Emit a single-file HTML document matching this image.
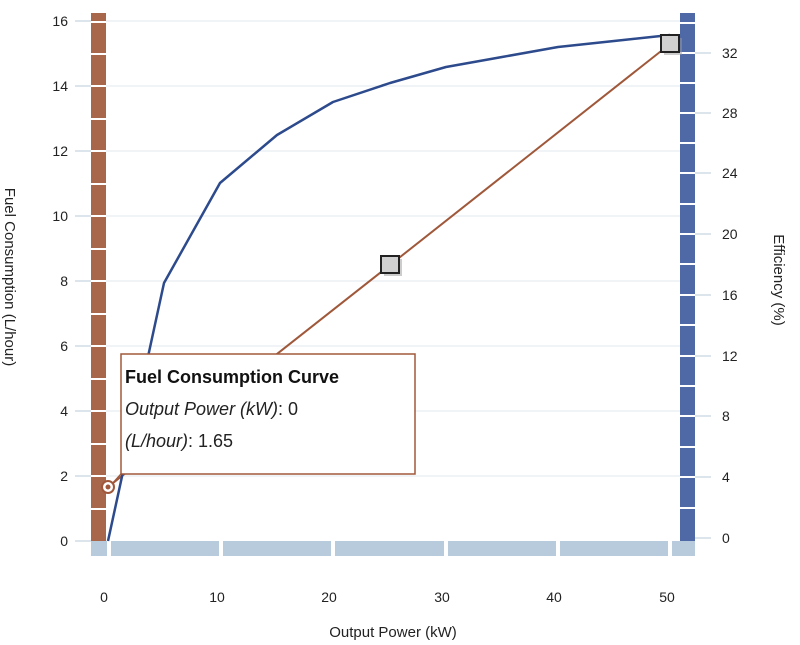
<!DOCTYPE html>
<html><head><style>body{margin:0;background:#fff}svg{font-family:"Liberation Sans",sans-serif}</style></head><body>
<svg width="800" height="640" viewBox="0 0 800 640">
<g stroke="#e3e8ee" stroke-width="1">
<line x1="106" x2="680" y1="21" y2="21"/><line x1="106" x2="680" y1="86" y2="86"/><line x1="106" x2="680" y1="151" y2="151"/><line x1="106" x2="680" y1="216" y2="216"/><line x1="106" x2="680" y1="281" y2="281"/><line x1="106" x2="680" y1="346" y2="346"/><line x1="106" x2="680" y1="411" y2="411"/><line x1="106" x2="680" y1="476" y2="476"/>
</g>
<g stroke="#b8c8d8" stroke-width="1">
<line x1="75" x2="91" y1="21" y2="21"/><line x1="75" x2="91" y1="86" y2="86"/><line x1="75" x2="91" y1="151" y2="151"/><line x1="75" x2="91" y1="216" y2="216"/><line x1="75" x2="91" y1="281" y2="281"/><line x1="75" x2="91" y1="346" y2="346"/><line x1="75" x2="91" y1="411" y2="411"/><line x1="75" x2="91" y1="476" y2="476"/><line x1="75" x2="91" y1="541" y2="541"/>
<line x1="695" x2="711" y1="53" y2="53"/><line x1="695" x2="711" y1="113" y2="113"/><line x1="695" x2="711" y1="173" y2="173"/><line x1="695" x2="711" y1="234" y2="234"/><line x1="695" x2="711" y1="295" y2="295"/><line x1="695" x2="711" y1="356" y2="356"/><line x1="695" x2="711" y1="416" y2="416"/><line x1="695" x2="711" y1="477" y2="477"/><line x1="695" x2="711" y1="538" y2="538"/>
</g>
<rect x="91" y="13" width="15" height="535" fill="#a8674a"/>
<g stroke="#fff" stroke-width="2">
<line x1="91" x2="106" y1="22" y2="22"/><line x1="91" x2="106" y1="54" y2="54"/><line x1="91" x2="106" y1="86" y2="86"/><line x1="91" x2="106" y1="119" y2="119"/><line x1="91" x2="106" y1="151" y2="151"/><line x1="91" x2="106" y1="184" y2="184"/><line x1="91" x2="106" y1="216" y2="216"/><line x1="91" x2="106" y1="249" y2="249"/><line x1="91" x2="106" y1="281" y2="281"/><line x1="91" x2="106" y1="314" y2="314"/><line x1="91" x2="106" y1="346" y2="346"/><line x1="91" x2="106" y1="379" y2="379"/><line x1="91" x2="106" y1="411" y2="411"/><line x1="91" x2="106" y1="444" y2="444"/><line x1="91" x2="106" y1="476" y2="476"/><line x1="91" x2="106" y1="509" y2="509"/>
</g>
<rect x="680" y="13" width="15" height="535" fill="#4f69a7"/>
<g stroke="#fff" stroke-width="2">
<line x1="680" x2="695" y1="23" y2="23"/><line x1="680" x2="695" y1="53" y2="53"/><line x1="680" x2="695" y1="83" y2="83"/><line x1="680" x2="695" y1="113" y2="113"/><line x1="680" x2="695" y1="143" y2="143"/><line x1="680" x2="695" y1="173" y2="173"/><line x1="680" x2="695" y1="204" y2="204"/><line x1="680" x2="695" y1="234" y2="234"/><line x1="680" x2="695" y1="264" y2="264"/><line x1="680" x2="695" y1="295" y2="295"/><line x1="680" x2="695" y1="325" y2="325"/><line x1="680" x2="695" y1="356" y2="356"/><line x1="680" x2="695" y1="386" y2="386"/><line x1="680" x2="695" y1="416" y2="416"/><line x1="680" x2="695" y1="447" y2="447"/><line x1="680" x2="695" y1="477" y2="477"/><line x1="680" x2="695" y1="508" y2="508"/>
</g>
<rect x="91" y="541" width="604" height="15" fill="#b8cbdd"/>
<g stroke="#fff" stroke-width="4">
<line x1="109" x2="109" y1="541" y2="556"/><line x1="221" x2="221" y1="541" y2="556"/><line x1="333" x2="333" y1="541" y2="556"/><line x1="446" x2="446" y1="541" y2="556"/><line x1="558" x2="558" y1="541" y2="556"/><line x1="670" x2="670" y1="541" y2="556"/>
</g>
<polyline fill="none" stroke="#a0583a" stroke-width="2" points="108,487 390,265 670,44"/>
<polyline fill="none" stroke="#2c4a8c" stroke-width="2.5" stroke-linejoin="round" points="108,541 164,283 220,183 277,135 333,102 390,83 446,67 502,57 558,47 614,41 670,35"/>
<rect x="384" y="259" width="18" height="17" fill="#999" opacity="0.5"/>
<rect x="381" y="256" width="18" height="17" fill="#d0d0d0" stroke="#222" stroke-width="2"/>
<rect x="664" y="38" width="18" height="17" fill="#999" opacity="0.5"/>
<rect x="661" y="35" width="18" height="17" fill="#d0d0d0" stroke="#222" stroke-width="2"/>
<circle cx="108" cy="487" r="6" fill="#fff" stroke="#a0583a" stroke-width="2"/><circle cx="108" cy="487" r="2.5" fill="#a0583a"/>
<rect x="121" y="354" width="294" height="120" fill="#fff" stroke="#a0583a" stroke-width="1.5"/>
<line x1="121" y1="474" x2="112" y2="484" stroke="#a0583a" stroke-width="1.5"/>
<text x="125" y="383" font-size="18" font-weight="bold" fill="#111">Fuel Consumption Curve</text>
<text x="125" y="415" font-size="18" fill="#222"><tspan font-style="italic">Output Power (kW)</tspan>: 0</text>
<text x="125" y="447" font-size="18" fill="#222"><tspan font-style="italic">(L/hour)</tspan>: 1.65</text>
<g font-size="14" fill="#222" text-anchor="end">
<text x="68" y="26">16</text><text x="68" y="91">14</text><text x="68" y="156">12</text><text x="68" y="221">10</text><text x="68" y="286">8</text><text x="68" y="351">6</text><text x="68" y="416">4</text><text x="68" y="481">2</text><text x="68" y="546">0</text>
</g>
<g font-size="14" fill="#222">
<text x="722" y="58">32</text><text x="722" y="118">28</text><text x="722" y="178">24</text><text x="722" y="239">20</text><text x="722" y="300">16</text><text x="722" y="361">12</text><text x="722" y="421">8</text><text x="722" y="482">4</text><text x="722" y="543">0</text>
</g>
<g font-size="14" fill="#222" text-anchor="middle">
<text x="104" y="602">0</text><text x="217" y="602">10</text><text x="329" y="602">20</text><text x="442" y="602">30</text><text x="554" y="602">40</text><text x="667" y="602">50</text>
<text x="393" y="637" font-size="15">Output Power (kW)</text>
</g>
<text transform="translate(5,277) rotate(90)" font-size="15" fill="#222" text-anchor="middle">Fuel Consumption (L/hour)</text>
<text transform="translate(774,280) rotate(90)" font-size="15" fill="#222" text-anchor="middle">Efficiency (%)</text>
</svg>
</body></html>
